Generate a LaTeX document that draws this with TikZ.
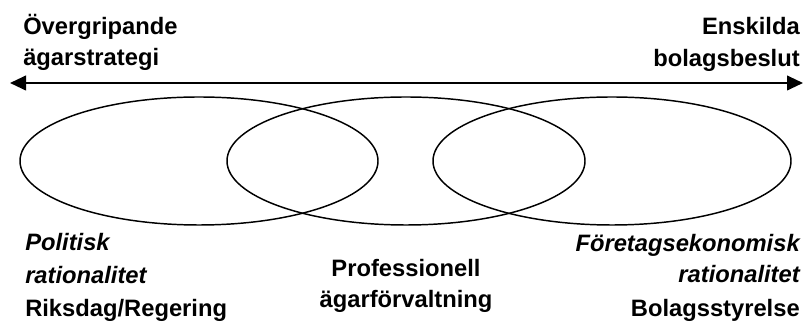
\documentclass[tikz,border=0pt]{standalone}
\usepackage{fontspec}
\setmainfont{Liberation Sans}
\usetikzlibrary{arrows.meta,shapes.geometric}
\tikzset{
  txt/.style={inner sep=0pt,font=\bfseries\fontsize{17.8}{20}\selectfont},
  itxt/.style={txt,font=\bfseries\itshape\fontsize{17.8}{20}\selectfont},
  ring/.style={draw,ellipse,line width=1.1pt,inner sep=0pt,minimum width=268.5pt,minimum height=96pt},
  tip/.style={line width=1.5pt,{Triangle[length=12pt,width=11pt]}-{Triangle[length=12pt,width=11pt]}},
}
\begin{document}
\begin{tikzpicture}[x=0.75pt,y=-0.75pt]
\useasboundingbox(0,0)rectangle(807,323);
\node[ring](pol)at(199,161){};
\node[ring](prof)at(406,161){};
\node[ring](bol)at(612,161){};
\coordinate(aL)at(10,83);
\coordinate(aR)at(803,83);
\draw[tip](aL)--(aR);
%
\node[txt,anchor=base west](ovA)at(23,35){Övergripande};
\node[txt,anchor=base west](ovB)at(23,66){ägarstrategi};
\node[txt,anchor=base east](enA)at(800,35){Enskilda};
\node[txt,anchor=base east](enB)at(800,67){bolagsbeslut};
%
\node[itxt,anchor=base west](polA)at(25,251){Politisk};
\node[itxt,anchor=base west](polB)at(25,284){rationalitet};
\node[txt,anchor=base west](polC)at(25,317){Riksdag/Regering};
%
\node[txt,anchor=base](profA)at(406,277){Professionell};
\node[txt,anchor=base](profB)at(406,308){ägarförvaltning};
%
\node[itxt,anchor=base east](bolA)at(800,252){Företagsekonomisk};
\node[itxt,anchor=base east](bolB)at(800,283){rationalitet};
\node[txt,anchor=base east](bolC)at(800,317){Bolagsstyrelse};
\end{tikzpicture}
\end{document}
